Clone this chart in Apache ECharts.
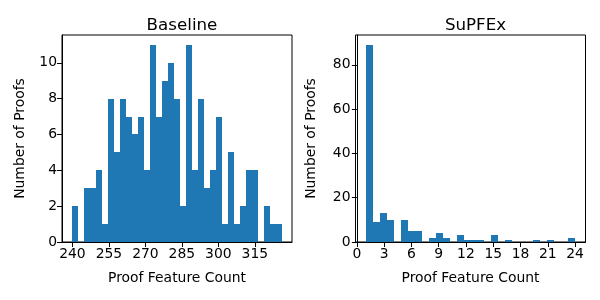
<!DOCTYPE html>
<html>
<head>
<meta charset="utf-8">
<script src="https://cdn.jsdelivr.net/npm/echarts@6/dist/echarts.min.js"></script>
<style>html,body{margin:0;padding:0;background:#fff}#c{width:600px;height:300px}</style>
</head>
<body>
<div id="c"></div>
<script>
// Baseline histogram: 35 bins spanning 240..326
const baselineRange = [240, 326];
const baselineCounts = [2,0,3,3,4,1,8,5,8,7,6,7,4,11,7,9,10,8,2,11,4,8,3,4,7,1,5,1,2,4,4,0,2,1,1];
// SuPFEx histogram: 30 bins spanning 1..24
const supfexRange = [1, 24];
const supfexCounts = [89,9,13,10,0,10,5,5,0,2,4,2,0,3,1,1,1,0,3,0,1,0,0,0,1,0,1,0,0,2];

const baselineXTicks = [240,255,270,285,300,315];
const baselineYTicks = [0,2,4,6,8,10];
const supfexXTicks = [0,3,6,9,12,15,18,21,24];
const supfexYTicks = [0,20,40,60,80];

const titles = ['Baseline', 'SuPFEx'];
const xLabel = 'Proof Feature Count';
const yLabel = 'Number of Proofs';

function bins(range, counts) {
  const w = (range[1] - range[0]) / counts.length;
  return counts.map((c, i) => [range[0] + i * w, range[0] + (i + 1) * w, c]);
}
function pad(range) {
  const s = (range[1] - range[0]) * 0.05;
  return [range[0] - s, range[1] + s];
}
const FONT = 'DejaVu Sans';
const blue = '#1f77b4';

function renderItem(params, api) {
  if (api.value(2) <= 0) return null;
  const p0 = api.coord([api.value(0), api.value(2)]);
  const p1 = api.coord([api.value(1), 0]);
  const x0 = Math.round(p0[0]), x1 = Math.round(p1[0]);
  const y0 = Math.round(p0[1]), y1 = Math.round(p1[1]);
  return {
    type: 'rect',
    shape: { x: x0, y: y0, width: x1 - x0, height: y1 - y0 },
    style: { fill: blue }
  };
}

function xAxis(idx, range, ticks) {
  const r = pad(range);
  return {
    type: 'value', gridIndex: idx, min: r[0], max: r[1],
    name: xLabel, nameLocation: 'middle', nameGap: 29,
    nameTextStyle: { fontFamily: FONT, fontSize: 13.9, color: '#000' },
    axisLine: { show: true, onZero: false, lineStyle: { color: '#000', width: 1 } },
    axisTick: { show: true, length: 5, customValues: ticks, lineStyle: { color: '#000', width: 1 } },
    axisLabel: { customValues: ticks, fontFamily: FONT, fontSize: 13.9, color: '#000', margin: 5 },
    splitLine: { show: false }
  };
}
function yAxis(idx, counts, ticks, gap) {
  const m = Math.max(...counts) * 1.05;
  return {
    type: 'value', gridIndex: idx, min: 0, max: m,
    name: yLabel, nameLocation: 'middle', nameGap: gap,
    nameTextStyle: { fontFamily: FONT, fontSize: 13.9, color: '#000' },
    axisLine: { show: true, lineStyle: { color: '#000', width: 1 } },
    axisTick: { show: true, length: 5, customValues: ticks, lineStyle: { color: '#000', width: 1 } },
    axisLabel: { customValues: ticks, fontFamily: FONT, fontSize: 13.9, color: '#000', margin: 5 },
    splitLine: { show: false }
  };
}

const chart = echarts.init(document.getElementById('c'), null, { renderer: 'canvas' });
chart.setOption({
  animation: false,
  backgroundColor: '#fff',
  title: [
    { text: titles[0], left: 177, top: 12, textAlign: 'center',
      textStyle: { fontFamily: FONT, fontSize: 16.7, fontWeight: 'normal', color: '#000' } },
    { text: titles[1], left: 470.5, top: 12, textAlign: 'center',
      textStyle: { fontFamily: FONT, fontSize: 16.7, fontWeight: 'normal', color: '#000' } }
  ],
  grid: [
    { left: 62, right: 308, top: 35, bottom: 58, show: true, borderColor: '#000', borderWidth: 1, backgroundColor: 'transparent' },
    { left: 355.5, right: 14.5, top: 35, bottom: 58, show: true, borderColor: '#000', borderWidth: 1, backgroundColor: 'transparent' }
  ],
  xAxis: [xAxis(0, baselineRange, baselineXTicks), xAxis(1, supfexRange, supfexXTicks)],
  yAxis: [yAxis(0, baselineCounts, baselineYTicks, 35), yAxis(1, supfexCounts, supfexYTicks, 37)],
  series: [
    { type: 'custom', xAxisIndex: 0, yAxisIndex: 0, renderItem, data: bins(baselineRange, baselineCounts), encode: { x: [0, 1], y: 2 } },
    { type: 'custom', xAxisIndex: 1, yAxisIndex: 1, renderItem, data: bins(supfexRange, supfexCounts), encode: { x: [0, 1], y: 2 } }
  ]
});
</script>
</body>
</html>
